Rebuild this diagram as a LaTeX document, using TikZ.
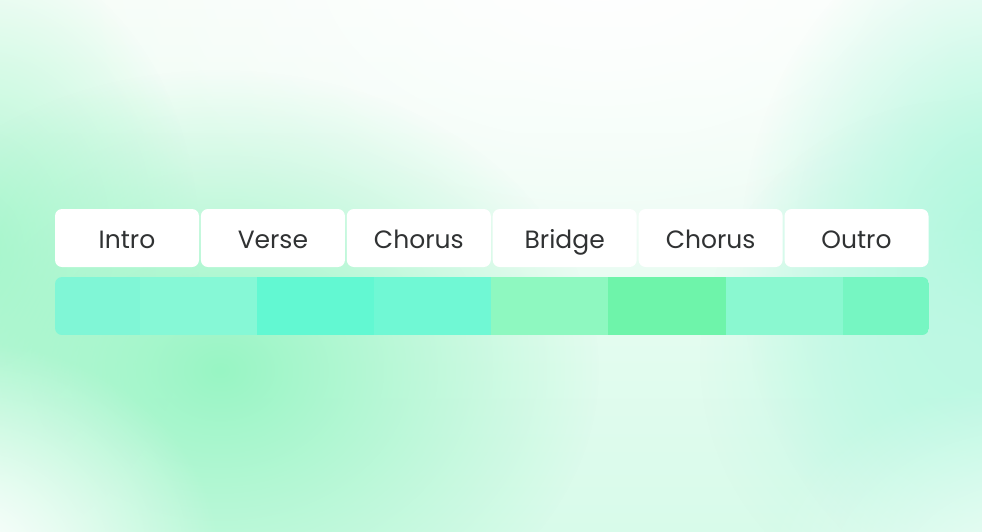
\documentclass[tikz,border=0pt]{standalone}
\usepackage{fontspec}
\setmainfont{Poppins}
\usetikzlibrary{positioning,fadings}

\definecolor{bgtop}{HTML}{F6FDF8}
\definecolor{bgmint}{HTML}{D8FBEA}
\definecolor{glowgreen}{HTML}{98F5C4}
\definecolor{glowaqua}{HTML}{A2F7D8}
\definecolor{textgray}{HTML}{303233}
\definecolor{segA}{HTML}{80F6D6}
\definecolor{segB}{HTML}{86F8D6}
\definecolor{segC}{HTML}{62F8D2}
\definecolor{segD}{HTML}{70F8D4}
\definecolor{segE}{HTML}{8EF8C0}
\definecolor{segF}{HTML}{6EF4AA}
\definecolor{segG}{HTML}{8AF8D0}
\definecolor{segH}{HTML}{76F6C2}

\tikzfading[name=glow, inner color=transparent!0, outer color=transparent!100]

\begin{document}
\begin{tikzpicture}[x=1pt, y=-1pt,
    partbox/.style={fill=white, rounded corners=7pt, minimum width=144pt,
        minimum height=58pt, inner sep=0pt, text=textgray,
        text height=20pt, text depth=0pt,
        font=\fontsize{25}{30}\selectfont},
    segbox/.style={minimum height=58pt, inner sep=0pt, anchor=north west}]

    % background
    \useasboundingbox (0,0) rectangle (982,531);
    \shade[top color=bgtop, bottom color=bgmint] (0,0) rectangle (982,531);
    \fill[white, path fading=glow] (600,-40) ellipse (560 and 360);
    \fill[glowgreen!80, path fading=glow] (-20,250) ellipse (220 and 300);
    \fill[glowgreen, path fading=glow] (220,370) ellipse (380 and 300);
    \fill[glowaqua, path fading=glow] (1000,260) ellipse (260 and 340);
    \fill[glowaqua!70, path fading=glow] (960,360) ellipse (260 and 260);
    \fill[white, path fading=glow] (-40,560) ellipse (260 and 220);
    \fill[white!60!bgmint, path fading=glow] (1040,580) ellipse (280 and 200);

    % song parts
    \node[partbox] (intro) at (127,238) {Intro};
    \node[partbox, right=1.5pt of intro] (verse) {Verse};
    \node[partbox, right=1.5pt of verse] (chorus1) {Chorus};
    \node[partbox, right=1.5pt of chorus1] (bridge) {Bridge};
    \node[partbox, right=1.5pt of bridge] (chorus2) {Chorus};
    \node[partbox, right=1.5pt of chorus2] (outro) {Outro};

    % colour bar
    \begin{scope}
        \clip[rounded corners=7pt] (55,277) rectangle (929,335);
        \foreach \c/\x/\w [count=\i] in {segA/55/85, segB/140/117, segC/257/117,
                segD/374/117, segE/491/117, segF/608/118, segG/726/117, segH/843/86}
            \node[segbox, fill=\c, minimum width=\w pt] (seg\i) at (\x,277) {};
    \end{scope}

\end{tikzpicture}
\end{document}
